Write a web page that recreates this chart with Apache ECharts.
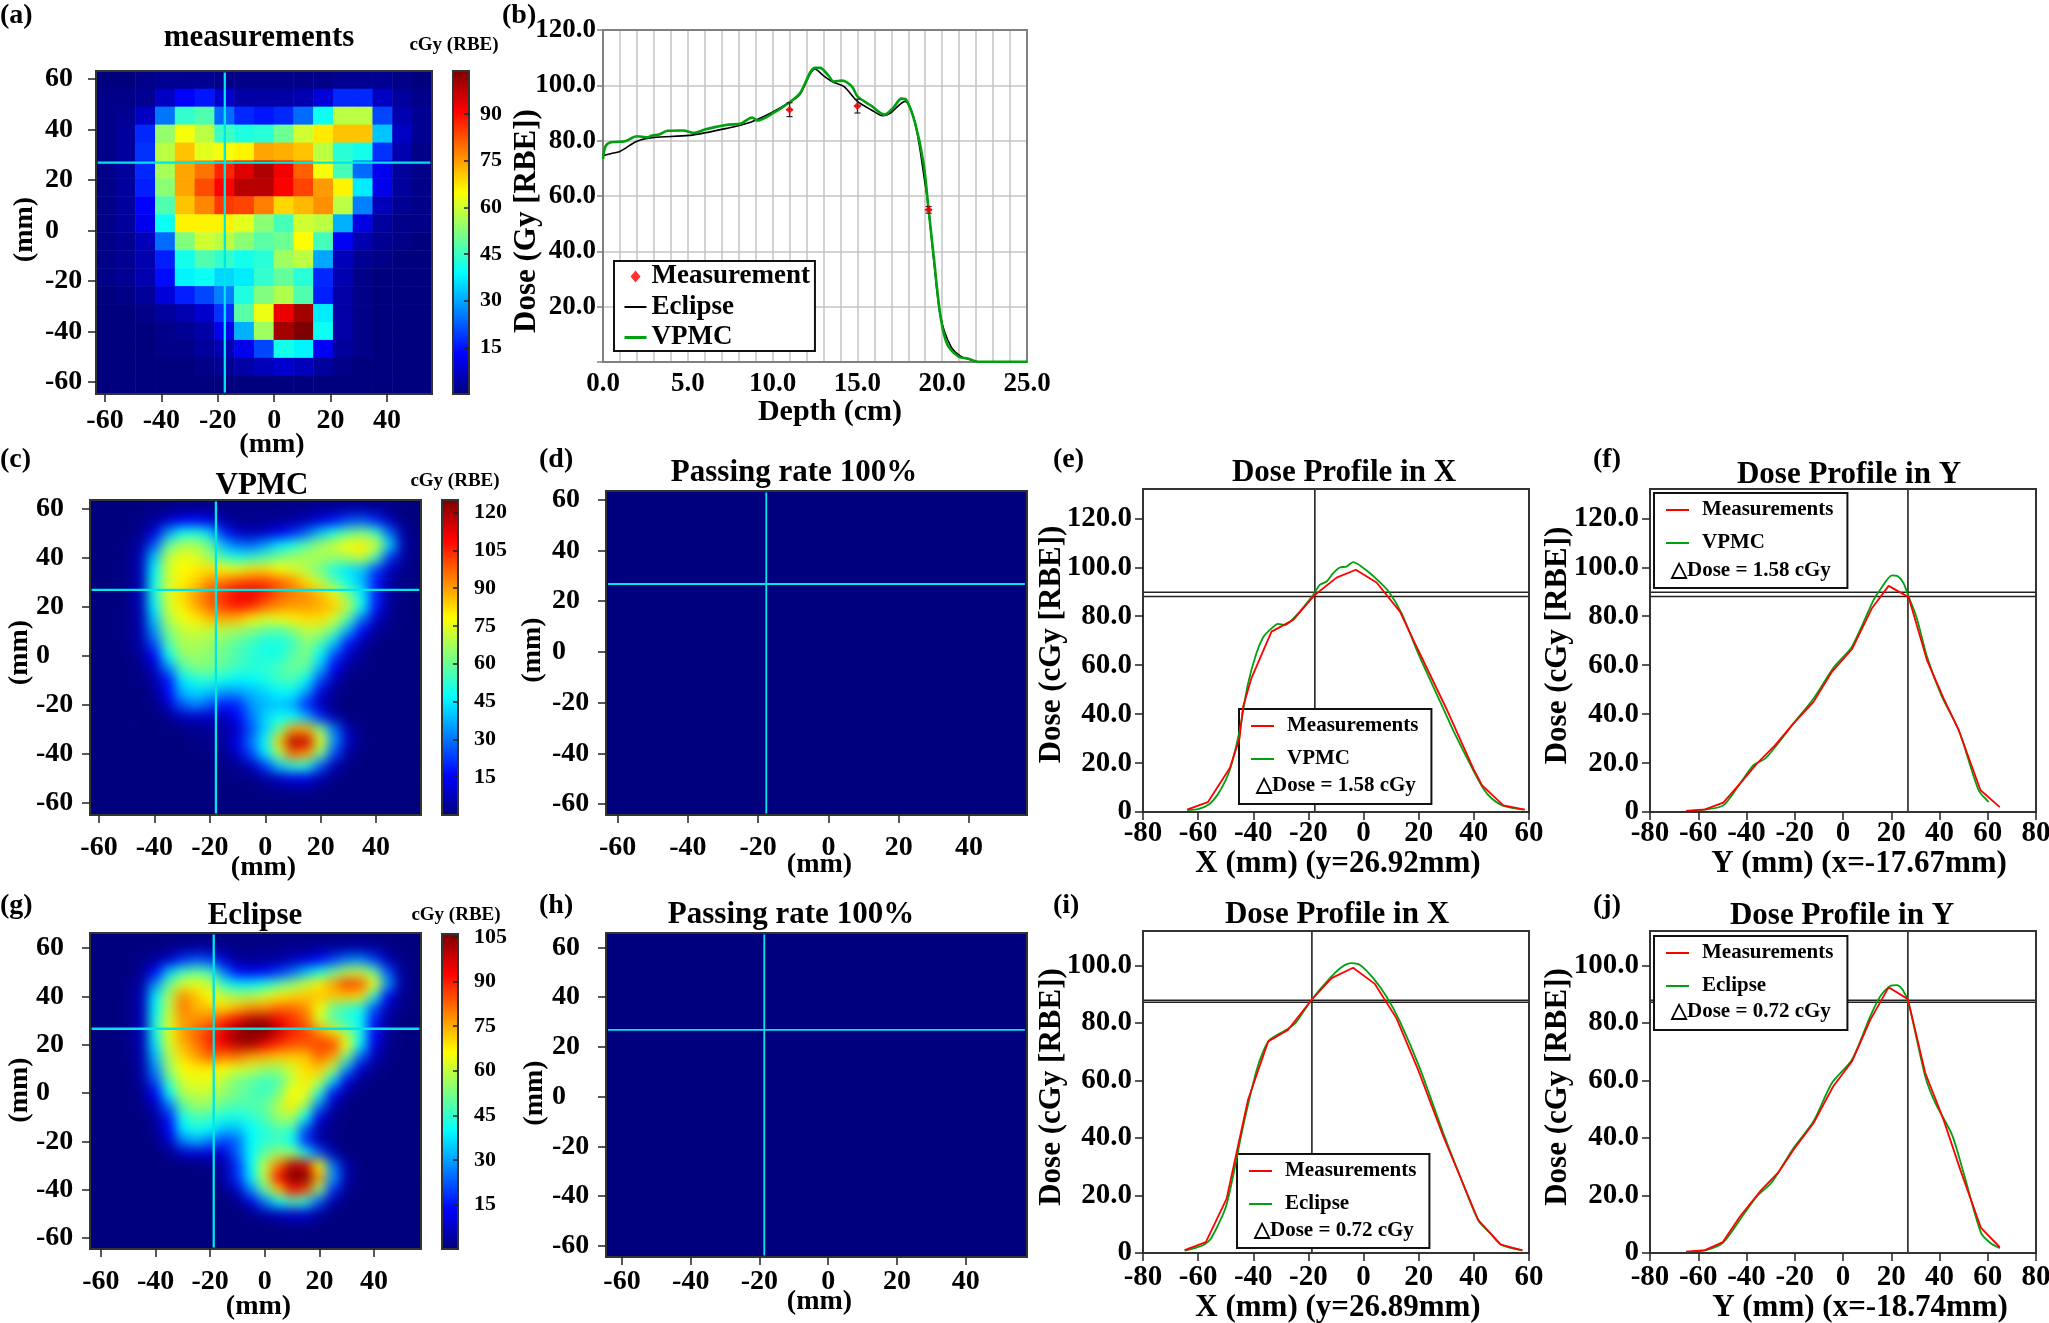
<!DOCTYPE html>
<html><head><meta charset="utf-8">
<script src="https://cdn.jsdelivr.net/npm/echarts@6/dist/echarts.min.js"></script>
<style>
html,body{margin:0;padding:0;background:#fff;width:2049px;height:1323px;overflow:hidden}
#main{position:absolute;left:0;top:0;width:2049px;height:1323px;z-index:2}
.wrap{position:absolute;overflow:hidden;background:#00007f;z-index:1}
.wrap>div{position:absolute;left:0;top:0;width:100%;height:100%;filter:blur(6px)}
</style></head><body>
<div class="wrap" style="left:90px;top:500px;width:331px;height:315px"><div id="hmC"></div></div>
<div class="wrap" style="left:90px;top:933px;width:331px;height:316px"><div id="hmG"></div></div>
<div id="main"></div>
<script>
// ---------- data ----------
const jet=['#00007f','#0000ff','#007fff','#00ffff','#7fff7f','#ffff00','#ff7f00','#ff0000','#7f0000'];
const mapTicksX=[-60,-40,-20,0,20,40];
const mapTicksY=[-60,-40,-20,0,20,40,60];
const colorTicksA=[15,30,45,60,75,90];
const colorTicksC=[15,30,45,60,75,90,105,120];
const colorTicksG=[15,30,45,60,75,90,105];
const doseTicksTall=[0,20,40,60,80,100,120];
const doseTicksShort=[0,20,40,60,80,100];
const depthTicks=[0,5,10,15,20,25];

// (a) measurements: 18 rows (top to bottom) of 17 detector cells
const measGrid=[
[0,0,1,2,2,2,1,1,1,1,1,1,2,2,2,1,0],
[1,1,2,7,13,15,8,4,4,4,5,9,17,17,7,3,1],
[1,2,7,25,44,47,24,17,15,17,24,40,58,58,20,5,2],
[1,3,17,54,64,58,45,42,43,50,60,67,71,71,33,7,2],
[1,3,18,58,71,62,64,66,74,73,71,58,43,41,18,5,1],
[1,3,17,56,74,79,87,94,99,92,81,64,46,24,11,3,1],
[1,3,16,53,74,83,91,98,98,91,84,75,66,37,11,3,1],
[1,3,13,47,71,77,85,84,78,69,72,76,58,26,6,2,1],
[1,3,11,40,66,66,66,62,53,46,60,58,31,10,3,1,1],
[1,2,6,24,52,60,58,53,48,50,65,46,12,5,2,1,0],
[1,2,5,16,41,47,44,41,43,55,58,30,6,2,1,0,0],
[1,2,5,14,38,40,35,37,44,49,43,17,5,1,0,0,0],
[0,1,3,9,16,20,26,42,52,57,47,16,4,1,0,0,0],
[0,0,1,3,5,8,18,48,63,93,100,37,4,1,0,0,0],
[0,0,0,1,2,4,11,31,55,100,105,40,4,1,0,0,0],
[0,0,0,1,1,3,5,11,20,41,38,12,3,1,0,0,0],
[0,0,0,0,0,1,2,4,6,8,6,3,1,0,0,0,0],
[0,0,0,0,0,0,0,0,0,0,0,0,0,0,0,0,0]];

// (c),(g) dose maps sampled every 5 mm
const smoothX=[-60,-55,-50,-45,-40,-35,-30,-25,-20,-15,-10,-5,0,5,10,15,20,25,30,35,40,45,50,55];
const smoothY=[60,55,50,45,40,35,30,25,20,15,10,5,0,-5,-10,-15,-20,-25,-30,-35,-40,-45,-50,-55,-60];
const vpmcMap=[
[0,0,0,0,1,1,2,2,2,1,1,1,1,1,2,2,3,3,4,4,3,2,0,0],
[0,0,0,1,3,9,15,16,13,5,2,2,2,3,4,7,12,18,24,26,20,7,1,0],
[0,0,0,2,12,34,48,50,42,20,9,7,9,14,20,28,40,50,58,62,54,28,4,0],
[0,0,1,4,26,58,68,68,60,38,30,28,35,44,50,58,66,72,78,80,72,42,6,0],
[0,0,1,7,40,70,76,74,66,54,50,52,56,62,66,68,68,66,68,72,56,22,4,0],
[0,0,1,7,46,72,78,80,82,78,76,82,82,78,74,68,60,50,44,40,24,8,2,0],
[0,0,1,7,48,72,80,84,92,96,100,102,102,98,92,82,70,58,48,38,18,4,1,0],
[0,0,1,7,50,74,82,90,98,104,110,112,106,98,94,92,86,76,62,46,20,4,0,0],
[0,0,1,7,46,72,80,88,96,102,106,104,96,92,90,90,88,84,70,48,18,3,0,0],
[0,0,1,6,40,68,76,80,86,88,86,80,74,76,80,82,82,72,56,30,9,2,0,0],
[0,0,1,6,34,62,70,72,70,68,66,62,58,56,62,70,68,58,36,15,3,1,0,0],
[0,0,1,5,26,56,68,68,66,62,58,54,50,50,54,64,56,40,18,5,1,0,0,0],
[0,0,0,3,16,48,64,66,64,60,56,52,50,50,58,62,46,24,9,2,0,0,0,0],
[0,0,0,1,9,32,56,62,62,58,54,52,52,56,60,58,38,15,3,1,0,0,0,0],
[0,0,0,1,5,18,44,50,52,48,46,46,50,54,56,46,24,6,1,0,0,0,0,0],
[0,0,0,0,2,16,38,42,40,34,34,38,42,46,46,34,11,3,0,0,0,0,0,0],
[0,0,0,0,1,9,26,32,26,18,20,34,38,40,36,20,7,1,0,0,0,0,0,0],
[0,0,0,0,0,2,7,9,8,7,16,30,42,48,48,38,20,5,0,0,0,0,0,0],
[0,0,0,0,0,0,1,2,3,4,9,26,42,60,90,88,62,30,6,1,0,0,0,0],
[0,0,0,0,0,0,0,1,2,4,13,30,48,84,118,116,76,34,9,1,0,0,0,0],
[0,0,0,0,0,0,0,0,1,2,9,24,44,66,96,90,60,24,3,0,0,0,0,0],
[0,0,0,0,0,0,0,0,0,1,2,7,22,40,52,50,26,6,1,0,0,0,0,0],
[0,0,0,0,0,0,0,0,0,0,1,1,4,8,13,13,5,1,0,0,0,0,0,0],
[0,0,0,0,0,0,0,0,0,0,0,0,1,1,2,2,1,0,0,0,0,0,0,0],
[0,0,0,0,0,0,0,0,0,0,0,0,0,0,0,0,0,0,0,0,0,0,0,0]];
const eclipseMap=[
[0,0,0,0,0,1,2,3,3,2,1,1,1,1,2,2,3,3,4,4,3,1,0,0],
[0,0,0,1,3,9,18,22,20,9,3,2,3,4,6,9,14,20,26,28,20,6,1,0],
[0,0,0,2,14,34,46,50,46,26,14,12,14,18,24,33,42,50,58,60,50,22,3,0],
[0,0,1,4,28,50,62,64,60,44,38,38,42,48,54,60,68,76,86,84,66,30,4,0],
[0,0,1,6,38,58,78,72,66,60,58,58,62,68,70,72,72,72,72,70,44,14,2,0],
[0,0,1,6,40,60,80,74,72,70,74,78,78,82,82,78,66,50,46,42,22,6,1,0],
[0,0,1,6,42,62,76,78,80,88,94,102,102,94,88,82,62,50,44,40,16,3,0,0],
[0,0,1,6,42,64,76,82,88,96,104,110,106,98,90,86,78,70,56,42,14,3,0,0],
[0,0,1,6,38,62,74,80,88,94,100,102,94,88,84,84,86,86,66,40,11,2,0,0],
[0,0,1,4,33,58,70,76,82,80,80,76,74,72,72,72,82,76,52,24,6,1,0,0],
[0,0,0,4,28,55,66,68,68,66,62,60,56,56,62,70,72,58,30,9,2,0,0,0],
[0,0,0,3,22,48,62,64,64,58,52,50,46,48,60,68,60,36,11,2,0,0,0,0],
[0,0,0,2,13,40,58,60,60,55,52,48,46,52,66,64,44,15,3,0,0,0,0,0],
[0,0,0,1,7,26,50,56,55,50,48,48,50,58,68,56,27,5,1,0,0,0,0,0],
[0,0,0,0,3,16,42,48,46,42,42,44,48,56,58,40,11,2,0,0,0,0,0,0],
[0,0,0,0,2,13,38,42,40,33,33,40,44,48,46,22,4,1,0,0,0,0,0,0],
[0,0,0,0,1,7,26,31,26,20,24,40,44,46,40,18,5,1,0,0,0,0,0,0],
[0,0,0,0,0,2,7,9,9,9,24,40,50,56,56,42,22,5,0,0,0,0,0,0],
[0,0,0,0,0,0,0,0,1,4,18,40,60,80,100,96,66,26,4,0,0,0,0,0],
[0,0,0,0,0,0,0,0,0,4,18,38,60,92,118,112,76,30,5,0,0,0,0,0],
[0,0,0,0,0,0,0,0,0,1,8,28,50,72,92,86,54,18,2,0,0,0,0,0],
[0,0,0,0,0,0,0,0,0,0,1,10,26,40,48,44,22,4,0,0,0,0,0,0],
[0,0,0,0,0,0,0,0,0,0,0,1,4,7,9,9,3,0,0,0,0,0,0,0],
[0,0,0,0,0,0,0,0,0,0,0,0,0,0,1,1,0,0,0,0,0,0,0,0],
[0,0,0,0,0,0,0,0,0,0,0,0,0,0,0,0,0,0,0,0,0,0,0,0]];
// (d),(h) gamma maps: every cell passes
const gammaMap=[[0]];

// (b) depth-dose
const depthEclipse=[[0,74.6],[.46,75.3],[1,76.1],[2,79.8],[3,81.2],[5.1,81.9],[7.4,84.6],[8.7,86.7],[9.9,90],[11,93.9],[11.6,96.6],[12.5,105.9],[13,103.5],[13.5,101.4],[14.2,99.6],[15,94.2],[15.8,91.2],[16.5,89],[16.9,89.8],[17.8,94.2],[18.4,86.4],[19,64],[19.2,55],[19.5,37],[19.9,16.5],[20.5,5.7],[21.1,2],[21.7,.8],[22.1,.1],[25,.1]];
const depthVpmc=[[0,73.4],[.15,78],[.46,79.4],[1.3,79.8],[2,81.6],[2.6,81.2],[2.9,81.9],[3.3,82.2],[3.8,83.6],[4.7,83.7],[5.4,82.8],[6,84],[6.6,84.9],[7.4,85.8],[8.1,86.1],[8.8,88.4],[9.1,87.3],[10.1,90.2],[11,93.9],[11.6,97],[12.5,106.3],[12.8,106.3],[13.3,103.5],[13.6,101.4],[14.1,101.7],[14.7,99.4],[15,96],[15.8,92.7],[16.6,89.4],[17.1,91.8],[17.6,95.2],[17.9,94.6],[18.4,86.4],[18.9,71.9],[19.2,55],[19.5,38.2],[19.9,16.5],[20.3,6.3],[21,1.8],[21.5,1.3],[22.1,.1],[25,.1]];
const depthMeasured=[[11,91.2],[15,92.5],[19.2,55]];
const depthErrors=[[11,91.2,.2,2.5],[15,92.5,.2,2.5],[19.2,55,.2,1.2]];

// (e) profile in X, VPMC
const eMeas=[[-64,1],[-56.5,4],[-48.5,18],[-45,30],[-43.7,43],[-40.7,54.6],[-33.4,73.7],[-25.5,78.5],[-17.7,88.7],[-9.8,95.8],[-2.8,99],[4.7,93.8],[13.2,81.9],[19.8,66.2],[30,42.3],[39.8,17.7],[43,10.9],[50.7,2.7],[58.5,1]];
const eCalc=[[-64,.8],[-60,1.2],[-56,3.2],[-53,7],[-50,13],[-48,19],[-45,33],[-42,52],[-38.9,64.8],[-36.4,71.4],[-34,74.4],[-31,76.9],[-28.6,76.4],[-24.3,80.5],[-18.3,88.7],[-15.9,92.8],[-13.4,94.2],[-11,97.6],[-8.6,99.9],[-6.2,100.3],[-3.8,102.1],[1.1,98.7],[4.7,95.2],[8.9,90.4],[13.8,81.2],[19.8,64.8],[30,39.6],[32.5,33.4],[39.8,17],[43.4,9.6],[46.5,5.5],[50.7,2.5],[58,1]];
// (f) profile in Y, VPMC
const fMeas=[[-65,.5],[-57.2,1.1],[-49.6,3.8],[-42.7,11.6],[-35.7,19.8],[-28.1,27.3],[-20.5,36.2],[-12.2,45],[-4.6,57.3],[3.7,66.5],[12,83.3],[18.9,92.4],[27.2,87.8],[34.8,62.1],[41.7,46.4],[48,33.4],[57,8.9],[65,2]];
const fCalc=[[-65,.4],[-57,1],[-49.6,2.7],[-42.7,11.6],[-37.1,19.1],[-32.3,21.8],[-28.1,26.6],[-20.5,36.2],[-12.2,46.4],[-3.6,59.4],[3.7,67.6],[12.7,86.7],[15.4,90.8],[20.3,96.7],[22.4,96.5],[25.1,93.5],[27.2,88],[30.6,79.2],[34.8,63.5],[41,47.1],[48,33.4],[56.2,8.9],[60.4,4.1]];
// (i) profile in X, Eclipse
const iMeas=[[-64.9,1],[-57.2,3.8],[-49.7,18.8],[-41.9,53.3],[-34.6,73.6],[-27.4,77.6],[-18.9,88],[-11.6,95.6],[-3.8,99.2],[4.1,93.6],[11.9,81.7],[19.8,63.7],[28.9,40.6],[41.6,11.4],[49.8,2.9],[57.6,.9]];
const iCalc=[[-64.9,.8],[-58.2,2.7],[-55.2,5.2],[-49.7,16.8],[-43.7,44],[-38.9,63.2],[-36.4,70.1],[-34,74.2],[-27.4,78],[-24.3,80.5],[-18.9,88],[-12.2,95.6],[-8,99.4],[-4.4,100.8],[-1.3,100.2],[3.5,95.6],[8.3,89.2],[13.2,80.5],[20.4,64.3],[28.9,41.7],[35,26.7],[41.6,11.4],[45.8,7],[49.8,2.9],[57.6,.9]];
// (j) profile in Y, Eclipse
const jMeas=[[-65,.5],[-57.2,1],[-49.8,3.8],[-42.7,12.7],[-34.4,21.4],[-26.8,28],[-20.5,35.9],[-12.2,45.2],[-4.1,57.9],[3.7,66.6],[11.3,81.1],[18.9,92.4],[26.9,88.3],[34.1,62.6],[41.7,46.3],[48.6,29],[57.2,8.7],[65,2]];
const jCalc=[[-65,.3],[-57.2,.9],[-49.8,3.5],[-41.3,13.3],[-35.7,19.7],[-29.5,24.6],[-20.5,36.5],[-12.2,45.8],[-4.6,59.1],[3.7,67.2],[11.3,82.3],[15.4,89.2],[19.6,92.9],[22.4,93.2],[24.8,91.5],[27.2,86.9],[34.1,61.4],[38.3,52.1],[45.2,41.1],[50,27.8],[57.2,7],[61.1,3.5],[65,1.7]];

// crosshair positions (mm / dose)
const crossA=[-17.5,26.9], crossC=[-17.8,26.8], crossD=[-17.7,26.75], crossG=[-18.7,26.6], crossH=[-18.6,26.8];
const levelsE=[89.8,88.05], levelsI=[87.9,87.2];

// ---------- option building ----------
const FF='"Liberation Serif","Times New Roman",serif';
const RED='#ff0000', GREEN='#00a010';
const opt={animation:false,textStyle:{fontFamily:FF},grid:[],xAxis:[],yAxis:[],visualMap:[],series:[],legend:[],graphic:{elements:[]}};
const txt=(s,size,w)=>({fontFamily:FF,fontWeight:w||'bold',fontSize:size,color:'#000'});
function rectOf(r){return {left:r[0],top:r[1],width:r[2]-r[0],height:r[3]-r[1],outerBoundsMode:'none',containLabel:false};}
function text(s,x,y,size,align){opt.graphic.elements.push({type:'text',x,y:y+3,z:100,silent:true,style:{text:s,font:'bold '+size+'px '+FF,fill:'#000',align:align||'center',verticalAlign:'middle'}});}
function addGrid(r,border,bw,z){const g=Object.assign(rectOf(r),{show:true,backgroundColor:'transparent',borderColor:border,borderWidth:bw,z:z||6});opt.grid.push(g);return opt.grid.length-1;}
function nameStyle(size,shift,vertical){const p=shift?(vertical?(shift>0?[0,2*shift,0,0]:[0,0,0,-2*shift]):(shift>0?[0,0,0,2*shift]:[0,-2*shift,0,0])):0;return Object.assign(txt('',size),{padding:p});}
const noLine={show:false,onZero:false};

function addMapPanel(p){
  if(p.cells){
    const gi=opt.grid.length;opt.grid.push(rectOf(p.rect));
    const xi=opt.xAxis.length;opt.xAxis.push({gridIndex:gi,type:'category',show:false,data:p.cells[0].map((_,i)=>i)});
    const yi=opt.yAxis.length;opt.yAxis.push({gridIndex:gi,type:'category',show:false,inverse:true,data:p.cells.map((_,i)=>i)});
    const data=[];p.cells.forEach((row,j)=>row.forEach((v,i)=>data.push([i,j,v])));
    const si=opt.series.length;
    opt.series.push({type:'heatmap',name:p.title,xAxisIndex:xi,yAxisIndex:yi,data,silent:true,progressive:0});
    if(!p.bar) opt.visualMap.push({show:false,min:0,max:100,seriesIndex:si,inRange:{color:jet}});
    else p.barSeries=si;
  }
  const gi=addGrid(p.rect,'#333',2);
  const lab={fontFamily:FF,fontWeight:'bold',fontSize:28,color:'#000'};
  const tick={show:true,length:8,lineStyle:{color:'#222',width:1.5}};
  const xi=opt.xAxis.length;
  opt.xAxis.push({gridIndex:gi,type:'value',min:p.xr[0],max:p.xr[1],z:7,splitLine:{show:false},axisLine:noLine,
    axisTick:Object.assign({customValues:mapTicksX},tick),
    axisLabel:{customValues:mapTicksX,margin:p.xMargin+1,...lab},
    name:'(mm)',nameLocation:'middle',nameGap:p.xName[0],nameMoveOverlap:false,nameTextStyle:nameStyle(28,p.xName[1],false)});
  const yi=opt.yAxis.length;
  opt.yAxis.push({gridIndex:gi,type:'value',min:p.yr[0],max:p.yr[1],z:7,splitLine:{show:false},axisLine:noLine,
    axisTick:Object.assign({customValues:mapTicksY},tick),
    axisLabel:{customValues:mapTicksY,margin:p.yMargin,align:'left',padding:[2,0,0,0],...lab},
    name:'(mm)',nameLocation:'middle',nameGap:p.yName[0],nameMoveOverlap:false,nameTextStyle:nameStyle(28,p.yName[1],true)});
  const cross={type:'line',xAxisIndex:xi,yAxisIndex:yi,symbol:'none',silent:true,z:5,lineStyle:{color:'#00e6e6',width:p.crossW||2.3},legendHoverLink:false};
  opt.series.push(Object.assign({},cross,{name:'crosshair x',data:[[p.cross[0],p.yr[0]+.6],[p.cross[0],p.yr[1]-.6]]}));
  opt.series.push(Object.assign({},cross,{name:'crosshair y',data:[[p.xr[0]+.6,p.cross[1]],[p.xr[1]-.6,p.cross[1]]]}));
  if(p.bar) addColorBar(p.bar,p.barSeries);
}
function addColorBar(b,si){
  opt.visualMap.push({type:'continuous',show:true,min:0,max:b.max,left:b.rect[0],top:b.rect[1],padding:0,itemWidth:b.rect[2]-b.rect[0],itemHeight:b.rect[3]-b.rect[1],calculable:false,hoverLink:false,realtime:false,text:null,showLabel:false,seriesIndex:si==null?[]:si,inRange:{color:jet},borderWidth:0});
  const gi=addGrid(b.rect,'#333',2);
  opt.xAxis.push({gridIndex:gi,type:'value',show:false,min:0,max:1});
  opt.yAxis.push({gridIndex:gi,type:'value',position:'right',min:0,max:b.max,z:7,splitLine:{show:false},axisLine:noLine,
    axisTick:{customValues:b.ticks,inside:true,length:5,lineStyle:{color:'#222',width:1.5}},
    axisLabel:{customValues:b.ticks,margin:b.margin,padding:[2,0,0,0],fontFamily:FF,fontWeight:'bold',fontSize:22,color:'#000'}});
}
function addProfile(p){
  const gi=addGrid(p.rect,'#333',2);
  const lab={fontFamily:FF,fontWeight:'bold',fontSize:29,color:'#000'};
  const tick={show:true,length:8,lineStyle:{color:'#222',width:1.5}};
  const xi=opt.xAxis.length;
  opt.xAxis.push({gridIndex:gi,type:'value',min:p.xr[0],max:p.xr[1],interval:20,z:7,splitLine:{show:false},axisLine:noLine,axisTick:tick,
    axisLabel:{margin:p.xMargin,...lab},name:p.xTitle,nameLocation:'middle',nameGap:p.xName[0],nameMoveOverlap:false,nameTextStyle:nameStyle(31,p.xName[1],false)});
  const yi=opt.yAxis.length;
  opt.yAxis.push({gridIndex:gi,type:'value',min:0,max:p.ymax,z:7,splitLine:{show:false},axisLine:noLine,axisTick:Object.assign({customValues:p.yTicks},tick),
    axisLabel:{customValues:p.yTicks,margin:11,padding:[2,0,0,0],formatter:v=>v===0?'0':v.toFixed(1),...lab},name:'Dose (cGy [RBE])',nameLocation:'middle',nameGap:p.yName[0],nameMoveOverlap:false,nameTextStyle:nameStyle(31,p.yName[1],true)});
  const cl={type:'line',xAxisIndex:xi,yAxisIndex:yi,symbol:'none',silent:true,z:3,lineStyle:{color:'#222',width:1.6}};
  opt.series.push(Object.assign({},cl,{name:'cross x',data:[[p.cross,0],[p.cross,p.ymax]]}));
  p.levels.forEach((lv,i)=>opt.series.push(Object.assign({},cl,{name:'level '+i,data:[[p.xr[0],lv],[p.xr[1],lv]]})));
  opt.series.push({type:'line',name:p.calcName,xAxisIndex:xi,yAxisIndex:yi,symbol:'none',z:4,smooth:.25,lineStyle:{color:GREEN,width:1.8},itemStyle:{color:GREEN},data:p.calc});
  opt.series.push({type:'line',name:'Measurements',xAxisIndex:xi,yAxisIndex:yi,symbol:'none',z:4,lineStyle:{color:RED,width:1.8},itemStyle:{color:RED},data:p.meas});
  const L=p.legend;
  opt.legend.push({left:L.box[0],top:L.box[1],orient:'vertical',selectedMode:false,backgroundColor:'#fff',borderColor:'#111',borderWidth:2,z:4,
    padding:[6.5,L.box[2]-179,L.box[3]-60.5,11],itemGap:12,itemWidth:23,itemHeight:14,align:'left',
    textStyle:{fontFamily:FF,fontWeight:'bold',fontSize:21,color:'#000',padding:[0,0,0,8]},
    data:[{name:'Measurements',lineStyle:{color:RED,width:2},itemStyle:{opacity:0}},{name:p.calcName,lineStyle:{color:GREEN,width:2},itemStyle:{opacity:0}}]});
  text(L.dose,L.doseAt[0],L.doseAt[1],21,'left');
}

// (a)
addMapPanel({title:'measurements',rect:[96,71,432,394],xr:[-63.2,56],yr:[-64.75,63.2],cross:crossA,cells:measGrid,xMargin:12,yMargin:51,xName:[37,8],yName:[57,-3],
  bar:{rect:[453,71,469,394],max:103.8,ticks:colorTicksA,margin:11}});
// (c)
addMapPanel({title:'VPMC',rect:[90,500,421,815],xr:[-63.25,56.2],yr:[-64.8,63.4],cross:crossC,xMargin:18,yMargin:54,xName:[39,8],yName:[56,-5],
  bar:{rect:[442,500,458,815],max:125,ticks:colorTicksC,margin:16}});
// (g)
addMapPanel({title:'Eclipse',rect:[90,933,421,1249],xr:[-64,57.2],yr:[-64.5,66.2],cross:crossG,xMargin:18,yMargin:54,xName:[44,3],yName:[56,-1],
  bar:{rect:[442,934,458,1249],max:106,ticks:colorTicksG,margin:16}});
// (d)
addMapPanel({title:'Passing rate 100%',rect:[606,491,1027,815],xr:[-63.3,56.5],yr:[-64.3,63.4],cross:crossD,cells:gammaMap,crossW:1.8,xMargin:18,yMargin:54,xName:[36,3],yName:[59,-3]});
// (h)
addMapPanel({title:'Passing rate 100%',rect:[606,933,1027,1257],xr:[-64.65,57.85],yr:[-64.55,65.8],cross:crossH,cells:gammaMap,crossW:1.8,xMargin:10,yMargin:54,xName:[31,3],yName:[57,-2]});

// (b)
(function(){
  const r=[603,30,1027,362];
  const gi=addGrid(r,'#808080',2,1);
  const lab={fontFamily:FF,fontWeight:'bold',fontSize:27,color:'#000'};
  const xi=opt.xAxis.length;
  opt.xAxis.push({gridIndex:gi,type:'value',min:0,max:25,interval:1,splitLine:{show:true,lineStyle:{color:'#c4c4c4',width:1.5}},axisLine:noLine,
    axisTick:{show:false},axisLabel:{customValues:depthTicks,formatter:v=>v.toFixed(1),margin:9,...lab},
    name:'Depth (cm)',nameLocation:'middle',nameGap:35,nameMoveOverlap:false,nameTextStyle:nameStyle(30,15,false)});
  const yi=opt.yAxis.length;
  opt.yAxis.push({gridIndex:gi,type:'value',min:0,max:120,interval:20,splitLine:{show:true,lineStyle:{color:'#c4c4c4',width:1.5}},axisLine:noLine,
    axisTick:{show:true,length:6,lineStyle:{color:'#808080',width:1.5}},axisLabel:{margin:7,padding:[2,0,0,0],formatter:v=>v===0?'':v.toFixed(1),...lab},
    name:'Dose (Gy [RBE])',nameLocation:'middle',nameGap:61,nameMoveOverlap:false,nameTextStyle:nameStyle(31,25,true)});
  opt.series.push({type:'line',name:'Eclipse',xAxisIndex:xi,yAxisIndex:yi,symbol:'none',smooth:.3,z:3,lineStyle:{color:'#000',width:1.6},itemStyle:{color:'#000'},data:depthEclipse});
  opt.series.push({type:'line',name:'VPMC',xAxisIndex:xi,yAxisIndex:yi,symbol:'none',smooth:.3,z:4,lineStyle:{color:GREEN,width:2.6},itemStyle:{color:GREEN},data:depthVpmc});
  opt.series.push({type:'custom',name:'error',xAxisIndex:xi,yAxisIndex:yi,z:5,silent:true,data:depthErrors,renderItem:(prm,api)=>{
    const x=api.value(0),y=api.value(1),ex=api.value(2),ey=api.value(3);
    const a=api.coord([x,y+ey]),b=api.coord([x,y-ey]),c=api.coord([x-ex,y]),d=api.coord([x+ex,y]);
    const st={stroke:'#222',lineWidth:1.2};
    const ln=(p,q)=>({type:'line',shape:{x1:p[0],y1:p[1],x2:q[0],y2:q[1]},style:st});
    return {type:'group',children:[ln(a,b),ln(c,d),ln([a[0]-3,a[1]],[a[0]+3,a[1]]),ln([b[0]-3,b[1]],[b[0]+3,b[1]])]};
  }});
  opt.series.push({type:'scatter',name:'Measurement',xAxisIndex:xi,yAxisIndex:yi,symbol:'diamond',symbolSize:8,z:6,itemStyle:{color:RED},data:depthMeasured});
  opt.legend.push({left:614,top:261,orient:'vertical',selectedMode:false,backgroundColor:'#fff',borderColor:'#111',borderWidth:2,z:4,
    padding:[2,5,0,9],itemGap:3.5,itemWidth:22,itemHeight:12,align:'left',symbolKeepAspect:true,
    textStyle:{fontFamily:FF,fontWeight:'bold',fontSize:27,color:'#000'},
    data:[{name:'Measurement',icon:'path://M5,0L10,6L5,12L0,6Z',itemStyle:{color:RED}},{name:'Eclipse',lineStyle:{color:'#000',width:2},itemStyle:{opacity:0}},{name:'VPMC',lineStyle:{color:GREEN,width:3},itemStyle:{opacity:0}}]});
})();

// (e) (f) (i) (j)
addProfile({rect:[1143,489,1529,812],xr:[-80,60],ymax:132,yTicks:doseTicksTall,cross:-17.67,levels:levelsE,calc:eCalc,meas:eMeas,calcName:'VPMC',xTitle:'X (mm) (y=26.92mm)',xMargin:7,xName:[36,2],yName:[76,-6],
  legend:{box:[1239,709,192,95],dose:'△Dose = 1.58 cGy',doseAt:[1256,783]}});
addProfile({rect:[1650,489,2036,812],xr:[-80,80],ymax:132,yTicks:doseTicksTall,cross:26.92,levels:levelsE,calc:fCalc,meas:fMeas,calcName:'VPMC',xTitle:'Y (mm) (x=-17.67mm)',xMargin:7,xName:[36,16],yName:[77,-5],
  legend:{box:[1654,493,193,95],dose:'△Dose = 1.58 cGy',doseAt:[1671,568]}});
addProfile({rect:[1143,931,1529,1253],xr:[-80,60],ymax:112,yTicks:doseTicksShort,cross:-18.74,levels:levelsI,calc:iCalc,meas:iMeas,calcName:'Eclipse',xTitle:'X (mm) (y=26.89mm)',xMargin:10,xName:[39,2],yName:[76,-5],
  legend:{box:[1237,1154,192,94],dose:'△Dose = 0.72 cGy',doseAt:[1254,1228]}});
addProfile({rect:[1650,931,2036,1253],xr:[-80,80],ymax:112,yTicks:doseTicksShort,cross:26.89,levels:levelsI,calc:jCalc,meas:jMeas,calcName:'Eclipse',xTitle:'Y (mm) (x=-18.74mm)',xMargin:10,xName:[39,17],yName:[77,-5],
  legend:{box:[1654,936,193,94],dose:'△Dose = 0.72 cGy',doseAt:[1671,1009]}});

// titles and panel letters
text('measurements',259,35,31);text('cGy (RBE)',454,42,19);
text('VPMC',262,483,31);text('cGy (RBE)',455,478,19);
text('Eclipse',255,913,31);text('cGy (RBE)',456,912,19);
text('Passing rate 100%',794,470,31);text('Passing rate 100%',791,912,31);
text('Dose Profile in X',1344,470,31);text('Dose Profile in Y',1849,472,31);
text('Dose Profile in X',1337,912,31);text('Dose Profile in Y',1842,913,31);
text('(a)',0,13,28,'left');text('(b)',502,13,28,'left');text('(c)',0,457,28,'left');text('(d)',539,457,28,'left');
text('(e)',1053,457,28,'left');text('(f)',1593,457,28,'left');text('(g)',0,903,28,'left');text('(h)',539,903,28,'left');
text('(i)',1053,903,28,'left');text('(j)',1593,903,28,'left');

echarts.init(document.getElementById('main'),null,{renderer:'canvas'}).setOption(opt);

function smoothMap(id,values,max,xr,yr,w,h){
  const sx=w/(xr[1]-xr[0]),sy=h/(yr[1]-yr[0]);
  const data=[];values.forEach((row,j)=>row.forEach((v,i)=>data.push([i,j,v])));
  echarts.init(document.getElementById(id)).setOption({animation:false,
    grid:{left:(-62.5-xr[0])*sx,top:(yr[1]-62.5)*sy,width:120*sx,height:125*sy,outerBoundsMode:'none'},
    xAxis:{type:'category',show:false,data:smoothX},yAxis:{type:'category',show:false,inverse:true,data:smoothY},
    visualMap:{show:false,min:0,max:max,inRange:{color:jet}},
    series:[{type:'heatmap',name:id,data,silent:true,progressive:0}]});
}
smoothMap('hmC',vpmcMap,125,[-63.25,56.2],[-64.8,63.4],331,315);
smoothMap('hmG',eclipseMap,106,[-64,57.2],[-64.5,66.2],331,316);
</script></body></html>
